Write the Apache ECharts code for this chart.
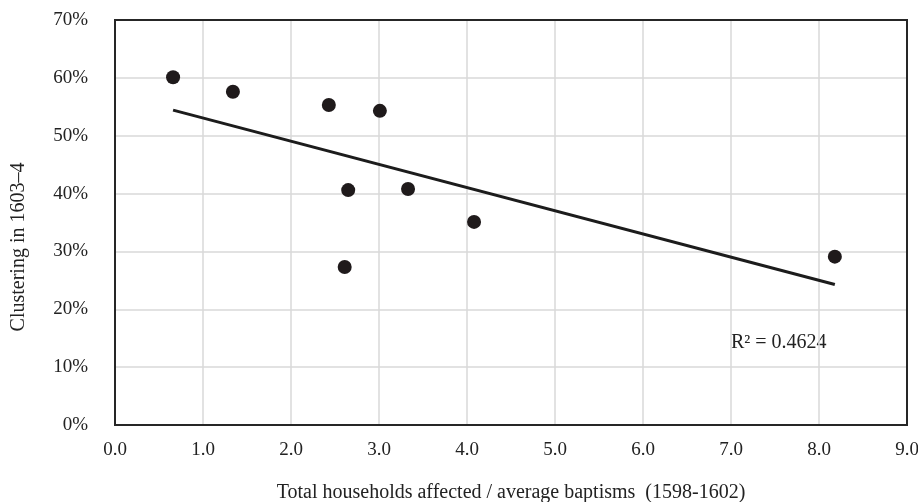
<!DOCTYPE html>
<html>
<head>
<meta charset="utf-8">
<script src="https://cdn.jsdelivr.net/npm/echarts@6/dist/echarts.min.js"></script>
<style>
  html, body { margin: 0; padding: 0; background: #fff; }
  #chart { width: 918px; height: 502px; }
</style>
</head>
<body>
<div id="chart"></div>
<script>
// households affected / average baptisms (1598-1602)
const ratioX = [0.66, 1.34, 2.43, 3.01, 2.65, 3.33, 4.08, 2.61, 8.18];
// clustering in 1603-4, in %
const clusterY = [60.1, 57.6, 55.3, 54.3, 40.6, 40.8, 35.1, 27.3, 29.1];
const rSquaredLabel = 'R² = 0.4624';

// least squares trend line, like the spreadsheet one
function linearFit(xs, ys) {
  const n = xs.length;
  const mx = xs.reduce((a, b) => a + b, 0) / n;
  const my = ys.reduce((a, b) => a + b, 0) / n;
  let sxy = 0, sxx = 0;
  xs.forEach((x, i) => {
    sxy += (x - mx) * (ys[i] - my);
    sxx += (x - mx) * (x - mx);
  });
  const slope = sxy / sxx;
  return {slope: slope, intercept: my - slope * mx};
}

const fit = linearFit(ratioX, clusterY);
const xMin = Math.min(...ratioX);
const xMax = Math.max(...ratioX);
const trendData = [
  [xMin, fit.intercept + fit.slope * xMin],
  [xMax, fit.intercept + fit.slope * xMax]
];

const font = '"Liberation Serif", "Times New Roman", serif';
const chart = echarts.init(document.getElementById('chart'));

chart.setOption({
  animation: false,
  grid: {left: 115, right: 11, top: 20, bottom: 77, outerBoundsMode: 'none', containLabel: false},
  xAxis: {
    type: 'value',
    min: 0,
    max: 9,
    interval: 1,
    name: 'Total households affected / average baptisms  (1598-1602)',
    nameLocation: 'middle',
    nameGap: 58,
    nameTextStyle: {fontFamily: font, fontSize: 20, color: '#222'},
    axisLine: {show: true, lineStyle: {color: '#262626', width: 2}},
    axisTick: {show: false},
    axisLabel: {
      fontFamily: font, fontSize: 19, color: '#222', margin: 16,
      formatter: v => v.toFixed(1)
    },
    splitLine: {show: true, lineStyle: {color: '#d9d9d9', width: 1.5}}
  },
  yAxis: {
    type: 'value',
    min: 0,
    max: 70,
    interval: 10,
    axisLine: {show: true, lineStyle: {color: '#262626', width: 2}},
    axisTick: {show: false},
    axisLabel: {
      fontFamily: font, fontSize: 19, color: '#222', margin: 27,
      formatter: v => v + '%'
    },
    splitLine: {show: true, lineStyle: {color: '#d9d9d9', width: 1.5}}
  },
  graphic: [
    {
      type: 'rect',
      shape: {x: 115, y: 20, width: 792, height: 405},
      style: {fill: 'none', stroke: '#262626', lineWidth: 2},
      silent: true,
      z: 10
    },
    {
      type: 'text',
      x: 19,
      y: 247,
      rotation: Math.PI / 2,
      style: {
        text: 'Clustering in 1603–4',
        font: '20px ' + font,
        fill: '#222',
        align: 'center',
        verticalAlign: 'middle'
      }
    },
    {
      type: 'text',
      x: 731,
      y: 343,
      style: {
        text: rSquaredLabel,
        font: '20px ' + font,
        fill: '#222',
        align: 'left',
        verticalAlign: 'middle'
      }
    }
  ],
  series: [
    {
      type: 'line',
      data: trendData,
      symbol: 'none',
      lineStyle: {color: '#1c1c1c', width: 3},
      z: 3
    },
    {
      type: 'scatter',
      data: ratioX.map((x, i) => [x, clusterY[i]]),
      symbol: 'circle',
      symbolSize: 14,
      itemStyle: {color: '#1f1a1b', opacity: 1},
      z: 4
    }
  ]
});
</script>
</body>
</html>
